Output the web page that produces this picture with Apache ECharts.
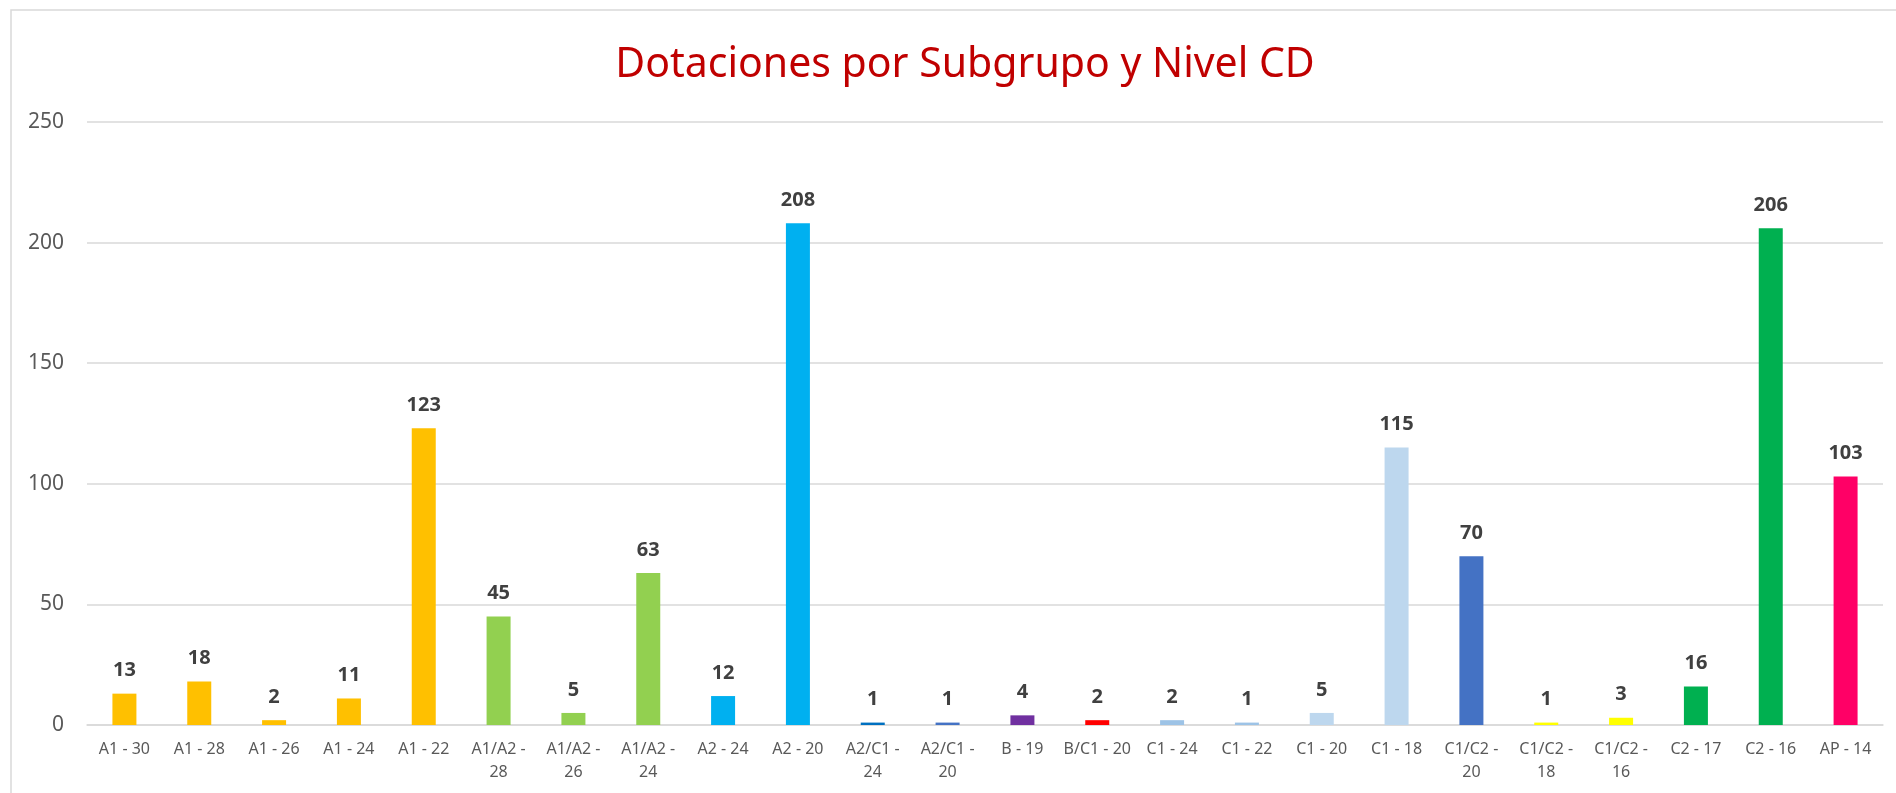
<!DOCTYPE html>
<html>
<head>
<meta charset="utf-8">
<script src="https://cdn.jsdelivr.net/npm/echarts@6/dist/echarts.min.js"></script>
<style>
  html, body { margin: 0; padding: 0; background: #fff; }
  #chart { width: 1896px; height: 793px; }
</style>
</head>
<body>
<div id="chart"></div>
<script>
// categorias (subgrupo - nivel CD)
const categories = ['A1 - 30', 'A1 - 28', 'A1 - 26', 'A1 - 24', 'A1 - 22',
    'A1/A2 - 28', 'A1/A2 - 26', 'A1/A2 - 24', 'A2 - 24', 'A2 - 20',
    'A2/C1 - 24', 'A2/C1 - 20', 'B - 19', 'B/C1 - 20', 'C1 - 24',
    'C1 - 22', 'C1 - 20', 'C1 - 18', 'C1/C2 - 20', 'C1/C2 - 18',
    'C1/C2 - 16', 'C2 - 17', 'C2 - 16', 'AP - 14'];
// dotaciones
const dotaciones = [13, 18, 2, 11, 123, 45, 5, 63, 12, 208,
    1, 1, 4, 2, 2, 1, 5, 115, 70, 1, 3, 16, 206, 103];
// color de cada barra
const barColors = ['#FFC000', '#FFC000', '#FFC000', '#FFC000', '#FFC000',
    '#92D050', '#92D050', '#92D050', '#00B0F0', '#00B0F0',
    '#0070C0', '#4472C4', '#7030A0', '#FF0000', '#9DC3E6',
    '#9DC3E6', '#BDD7EE', '#BDD7EE', '#4472C4', '#FFFF00',
    '#FFFF00', '#00B050', '#00B050', '#FF0066'];
const yTicks = [0, 50, 100, 150, 200, 250];

window.onload = () => {
    let chart = echarts.init(document.getElementById('chart'));
    let font = 'Noto Sans';
    let option = {
        backgroundColor: '#fff',
        animation: false,
        title: {
            text: 'Dotaciones por Subgrupo y Nivel CD',
            left: 960,
            textAlign: 'center',
            top: 40,
            textStyle: { color: '#C00000', fontSize: 41, fontWeight: 'normal', fontFamily: font }
        },
        graphic: [{
            type: 'rect',
            shape: { x: 11, y: 10, width: 1900, height: 800 },
            style: { fill: 'none', stroke: '#d9d9d9', lineWidth: 1.5 },
            silent: true
        }],
        grid: { left: 87, right: 13, top: 122, bottom: 68 },
        xAxis: {
            type: 'category',
            data: categories,
            axisTick: { show: false },
            axisLine: { lineStyle: { color: '#d9d9d9', width: 1.5 } },
            axisLabel: {
                color: '#595959',
                fontSize: 16,
                fontFamily: font,
                lineHeight: 23,
                margin: 13,
                interval: 0,
                formatter: (v) => v.length >= 10 ? v.replace(' - ', ' -\n') : v
            }
        },
        yAxis: {
            type: 'value',
            min: yTicks[0],
            max: yTicks[yTicks.length - 1],
            interval: 50,
            axisLine: { show: false },
            axisTick: { show: false },
            splitLine: { lineStyle: { color: '#d9d9d9', width: 1.5 } },
            axisLabel: { color: '#595959', fontSize: 21, fontFamily: font, margin: 23 }
        },
        series: [{
            type: 'bar',
            barWidth: 24,
            data: dotaciones.map((v, i) => ({ value: v, itemStyle: { color: barColors[i] } })),
            label: {
                show: true,
                position: 'top',
                distance: 13,
                color: '#404040',
                fontSize: 20,
                fontWeight: 'bold',
                fontFamily: font
            }
        }]
    };
    chart.setOption(option);
};
</script>
</body>
</html>
